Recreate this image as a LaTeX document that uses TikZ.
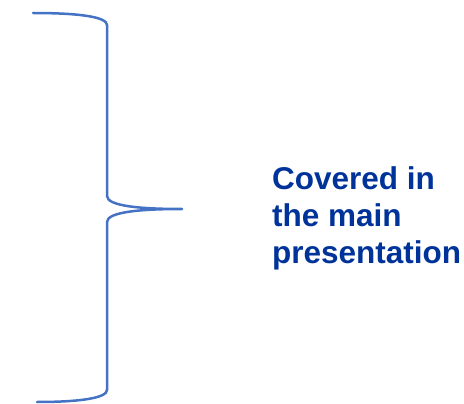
\documentclass[tikz,border=0pt]{standalone}
\usepackage{fontspec}
\setmainfont{Liberation Sans}
\usetikzlibrary{positioning}
\usepackage{xcolor}
\definecolor{BraceBlue}{HTML}{4472C4}
\definecolor{NoteBlue}{HTML}{003399}
\tikzset{
    % Brace and note styles
    bracepath/.style={
        draw=BraceBlue,
        line width=2.5pt,
        line cap=round,
        line join=round
    },
    note/.style={
        text=NoteBlue,
        align=left,
        anchor=north west,
        inner sep=0pt,
        font=\fontsize{31.5}{37}\selectfont\bfseries
    }
}
\begin{document}
\begin{tikzpicture}[x=1pt, y=-1pt]
    \useasboundingbox (0,0) rectangle (464,404);

    % brace points
    \coordinate (top) at (33,13);
    \coordinate (tip) at (182,209);
    \coordinate (bottom) at (37,402);

    \draw[bracepath] (top) .. controls (80,13) and (107,17) .. (107,25)
        -- (107,196) .. controls (107,206) and (140,209) .. (tip)
        .. controls (140,209) and (107,212) .. (107,222)
        -- (107,390) .. controls (107,398) and (80,402) .. (bottom);

    \node[note] (covered) at (272,166) {Covered in\\the main\\presentation};
\end{tikzpicture}
\end{document}
